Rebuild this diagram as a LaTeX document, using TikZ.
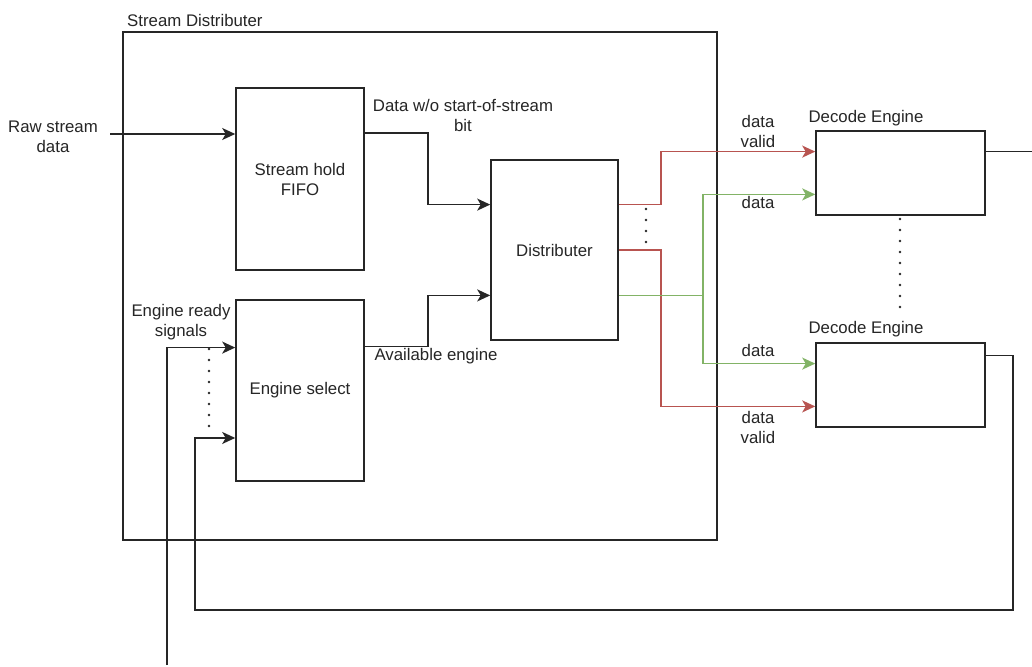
\documentclass[tikz,border=0pt]{standalone}
\usepackage{fontspec}
\setmainfont{Liberation Sans}
\usetikzlibrary{arrows.meta,calc}
\definecolor{redline}{HTML}{B85450}
\definecolor{greenline}{HTML}{82B366}
\definecolor{ink}{HTML}{262626}
\begin{document}
\begin{tikzpicture}[x=1pt,y=-1pt,
  every node/.style={font=\fontsize{16.8}{20}\selectfont, text=ink, inner sep=0pt},
  blk/.style={draw=ink, line width=1.6pt, rectangle, fill=white},
  wire/.style={draw=ink, line width=1.6pt},
  tip/.style={-{Stealth[length=13pt,width=12pt,inset=3.5pt]}},
  arr/.style={wire, tip},
  redarr/.style={draw=redline, line width=1.6pt, tip},
  greenarr/.style={draw=greenline, line width=1.6pt, tip},
  greenw/.style={draw=greenline, line width=1.6pt},
  dots/.style={draw=ink, line width=2.6pt, line cap=round, dash pattern=on 0pt off 11pt},
  lbl/.style={align=center}
]
\useasboundingbox (0,0) rectangle (1032,666);
\fill[white] (0,0) rectangle (1032,666);

% boxes
\node[blk, minimum width=594pt, minimum height=508pt] (outer) at (420,286) {};
\node[anchor=west] (outerlbl) at (127,20) {Stream Distributer};
\node[blk, minimum width=128pt, minimum height=182pt, lbl] (fifo) at (300,179) {Stream hold\\FIFO};
\node[blk, minimum width=128pt, minimum height=181pt] (sel) at (300,390.5) {Engine select};
\node[blk, minimum width=127pt, minimum height=180pt] (dist) at (554.5,250) {Distributer};
\node[blk, minimum width=169pt, minimum height=84pt] (dec1) at (900.5,173) {};
\node[blk, minimum width=169pt, minimum height=84pt] (dec2) at (900.5,385) {};
\node (dec1lbl) at (866,118) {Decode Engine};
\node (dec2lbl) at (866,329) {Decode Engine};

% labels
\node[lbl] (rawlbl) at (53,137) {Raw stream\\data};
\node[lbl] (dwlbl) at (463,115) {Data w/o start-of-stream\\bit};
\node (avlbl) at (436,356) {Available engine};
\node[lbl] (erlbl) at (181,322) {Engine ready\\signals};
\node[lbl] (dv1) at (758,131) {data\\valid};
\node (d1) at (758,202) {data};
\node (d2) at (758,350) {data};
\node[lbl] (dv2) at (758,427) {data\\valid};

% helper coordinates
\coordinate (rawin) at (110,134);
\coordinate (outend) at (1032,0);
\coordinate (readyend) at (167,665);
\coordinate (mx) at (428,0);
\coordinate (rx) at (661,0);
\coordinate (gx) at (703,0);
\coordinate (lx) at (1013,610);
\coordinate (fx) at (195,0);

% named port points
\coordinate (fifoO) at ($(fifo.north east)!0.25!(fifo.south east)$);
\coordinate (selO) at ($(sel.north east)!0.26!(sel.south east)$);
\coordinate (distI1) at ($(dist.north west)!0.25!(dist.south west)$);
\coordinate (distI2) at ($(dist.north west)!0.75!(dist.south west)$);
\coordinate (distO1) at ($(dist.north east)!0.25!(dist.south east)$);
\coordinate (distO2) at ($(dist.north east)!0.5!(dist.south east)$);
\coordinate (distO3) at ($(dist.north east)!0.75!(dist.south east)$);
\coordinate (selI1) at ($(sel.north west)!0.265!(sel.south west)$);
\coordinate (selI2) at ($(sel.north west)!0.76!(sel.south west)$);
\coordinate (dec1I1) at ($(dec1.north west)!0.25!(dec1.south west)$);
\coordinate (dec1I2) at ($(dec1.north west)!0.75!(dec1.south west)$);
\coordinate (dec2I1) at ($(dec2.north west)!0.25!(dec2.south west)$);
\coordinate (dec2I2) at ($(dec2.north west)!0.75!(dec2.south west)$);
\coordinate (dec1O) at ($(dec1.north east)!0.25!(dec1.south east)$);
\coordinate (dec2O) at ($(dec2.north east)!0.155!(dec2.south east)$);

% black connectors
\draw[arr] (rawin) -- (rawin -| fifo.west);
\draw[arr] (fifoO) -- (fifoO -| mx) |- (distI1);
\draw[arr] (selO) -- (selO -| mx) |- (distI2);
\draw[arr] (readyend) |- (selI1);
\draw[arr] (dec2O) -| (lx) -| (fx |- selI2) -- (selI2);
\draw[wire] (dec1O) -- (dec1O -| outend);

% red connectors
\draw[redarr] (distO1) -- (distO1 -| rx) |- (dec1I1);
\draw[redarr] (distO2) -- (distO2 -| rx) |- (dec2I2);

% green connectors
\draw[greenw] (distO3) -- (distO3 -| gx);
\draw[greenarr] (distO3 -| gx) |- (dec1I2);
\draw[greenarr] (distO3 -| gx) |- (dec2I1);

% dots
\draw[dots] (646,209) -- (646,244);
\draw[dots] (209,349) -- (209,432);
\draw[dots] (900,219) -- (900,310);
\end{tikzpicture}
\end{document}
